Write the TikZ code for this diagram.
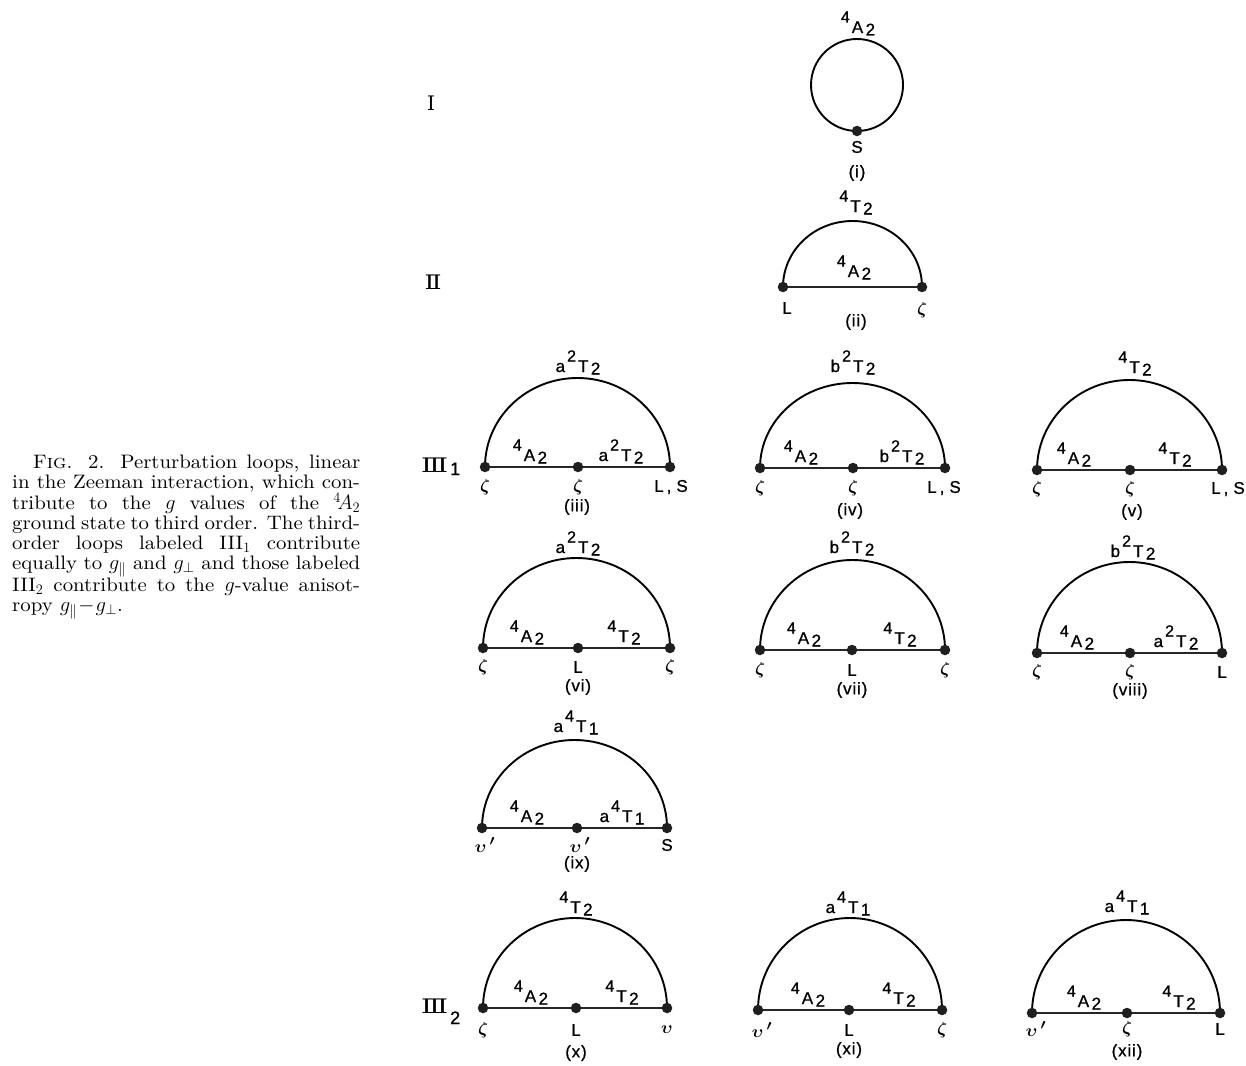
\documentclass[tikz,border=0pt]{standalone}
\usepackage{fontspec}
\usetikzlibrary{backgrounds}
\newfontfamily\labfont[LetterSpace=5,FakeBold=0.8]{Liberation Sans}
\newfontfamily\romfont{DejaVu Serif}
\newfontfamily\capf{lmroman10-regular.otf}[FakeStretch=1.07,ItalicFont=lmroman10-italic.otf,SmallCapsFont=lmromancaps10-regular.otf]
\newcommand\trm[4]{#1\kern2pt\raisebox{10.5pt}{\fontsize{16}{18}\selectfont #2}\kern2pt#3\kern2.5pt\raisebox{-2.5pt}{#4}}
\newcommand\zt{$\zeta$}
\newcommand\up{$\upsilon\,{}'$}
\newcommand\capfont{\capf\fontsize{19.5}{20}\selectfont}
\begin{document}
\begin{tikzpicture}[x=1pt,y=1pt,
  dot/.style={circle,fill=black!88,inner sep=0pt,minimum size=10.5pt},
  arcline/.style={line width=1.9pt,black},
  baseln/.style={line width=1.6pt,black!85},
  lbl/.style={font=\labfont\fontsize{17}{20}\selectfont,inner sep=0pt},
  gk/.style={font=\fontsize{19}{22}\selectfont\boldmath,inner sep=0pt},
  rowl/.style={font=\romfont\fontsize{20}{23}\selectfont,inner sep=0pt}]
\useasboundingbox (0,0) rectangle (1246,-1065);

% ---------- caption ----------
\node[anchor=base west,inner sep=0pt] (cap) at (12,-468) {\parbox[t]{348pt}{\capfont
\hbox to 348pt{\hskip21pt F\textsc{ig}. 2. Perturbation loops, linear}
\hbox to 348pt{in the Zeeman interaction, which con-}
\hbox to 348pt{tribute to the $g$ values of the $^4\!A_2$}
\hbox to 348pt{ground state to third order. The third-}
\hbox to 348pt{order loops labeled III$_1$ contribute}
\hbox to 348pt{equally to $g_{\parallel}$ and $g_{\perp}$ and those labeled}
\hbox to 348pt{III$_2$ contribute to the $g$-value anisot-}
\hbox{ropy $g_{\parallel}\!-\!g_{\perp}$.}}};

% ---------- row labels ----------
\node[rowl] (rI) at (431,-103) {Ⅰ};
\node[rowl] (rII) at (433,-282) {\scalebox{1.25}[1]{Ⅱ}};
\node[rowl,anchor=base west] (rIIIa) at (421,-472) {\scalebox{1.4}[1]{Ⅲ}\kern2pt\raisebox{-3pt}{\labfont\fontsize{18}{20}\selectfont 1}};
\node[rowl,anchor=base west] (rIIIb) at (421,-1013) {\scalebox{1.4}[1]{Ⅲ}\kern2pt\raisebox{-11pt}{\labfont\fontsize{18}{20}\selectfont 2}};

% ---------- (i) ----------
\node[dot] (s1) at (857,-131) {};
\node[lbl,anchor=base] (t1) at (857,-33) {\trm{}{4}{A}{2}};
\node[lbl] (b1) at (857,-147) {S};
\node[lbl] (n1) at (857,-173) {(i)};

% ---------- (ii) ----------
\node[dot] (a2) at (783,-287) {};
\node[dot] (c2) at (922,-287) {};
\node[lbl,anchor=base] (t2) at (855,-212) {\trm{}{4}{T}{2}};
\node[lbl,anchor=base] (i2) at (853,-277) {\trm{}{4}{A}{2}};
\node[lbl] (la2) at (787,-308) {L};
\node[gk] (lc2) at (922,-310) {\zt};
\node[lbl] (n2) at (856,-322) {(ii)};

% ---------- (iii) ----------
\node[dot] (a3) at (485,-467) {};
\node[dot] (b3) at (578,-467) {};
\node[dot] (c3) at (670,-467) {};
\node[lbl,anchor=base] (t3) at (578,-372) {\trm{a}{2}{T}{2}};
\node[lbl,anchor=base] (il3) at (529,-461) {\trm{}{4}{A}{2}};
\node[lbl,anchor=base] (ir3) at (621,-461) {\trm{a}{2}{T}{2}};
\node[gk] (la3) at (485,-487) {\zt};
\node[gk] (lb3) at (578,-487) {\zt};
\node[lbl] (lc3) at (671,-487) {L\kern3pt,\kern5pt S};
\node[lbl] (n3) at (577,-507) {(iii)};

% ---------- (iv) ----------
\node[dot] (a4) at (760,-468) {};
\node[dot] (b4) at (853,-468) {};
\node[dot] (c4) at (945,-468) {};
\node[lbl,anchor=base] (t4) at (853,-372) {\trm{b}{2}{T}{2}};
\node[lbl,anchor=base] (il4) at (800,-462) {\trm{}{4}{A}{2}};
\node[lbl,anchor=base] (ir4) at (902,-462) {\trm{b}{2}{T}{2}};
\node[gk] (la4) at (760,-488) {\zt};
\node[gk] (lb4) at (853,-488) {\zt};
\node[lbl] (lc4) at (944,-488) {L\kern3pt,\kern5pt S};
\node[lbl] (n4) at (850,-511) {(iv)};

% ---------- (v) ----------
\node[dot] (a5) at (1037,-470) {};
\node[dot] (b5) at (1130,-470) {};
\node[dot] (c5) at (1222,-470) {};
\node[lbl,anchor=base] (t5) at (1134,-373) {\trm{}{4}{T}{2}};
\node[lbl,anchor=base] (il5) at (1073,-464) {\trm{}{4}{A}{2}};
\node[lbl,anchor=base] (ir5) at (1174,-464) {\trm{}{4}{T}{2}};
\node[gk] (la5) at (1037,-489) {\zt};
\node[gk] (lb5) at (1130,-489) {\zt};
\node[lbl] (lc5) at (1228,-489) {L\kern3pt,\kern5pt S};
\node[lbl] (n5) at (1132,-512) {(v)};

% ---------- (vi) ----------
\node[dot] (a6) at (483,-648) {};
\node[dot] (b6) at (578,-648) {};
\node[dot] (c6) at (670,-648) {};
\node[lbl,anchor=base] (t6) at (578,-553) {\trm{a}{2}{T}{2}};
\node[lbl,anchor=base] (il6) at (526,-642) {\trm{}{4}{A}{2}};
\node[lbl,anchor=base] (ir6) at (623,-642) {\trm{}{4}{T}{2}};
\node[gk] (la6) at (483,-667) {\zt};
\node[lbl] (lb6) at (578,-667) {L};
\node[gk] (lc6) at (670,-667) {\zt};
\node[lbl] (n6) at (578,-687) {(vi)};

% ---------- (vii) ----------
\node[dot] (a7) at (760,-650) {};
\node[dot] (b7) at (852,-650) {};
\node[dot] (c7) at (945,-650) {};
\node[lbl,anchor=base] (t7) at (852,-553) {\trm{b}{2}{T}{2}};
\node[lbl,anchor=base] (il7) at (803,-644) {\trm{}{4}{A}{2}};
\node[lbl,anchor=base] (ir7) at (899,-644) {\trm{}{4}{T}{2}};
\node[gk] (la7) at (760,-670) {\zt};
\node[lbl] (lb7) at (852,-670) {L};
\node[gk] (lc7) at (945,-670) {\zt};
\node[lbl] (n7) at (852,-690) {(vii)};

% ---------- (viii) ----------
\node[dot] (a8) at (1037,-653) {};
\node[dot] (b8) at (1130,-653) {};
\node[dot] (c8) at (1222,-653) {};
\node[lbl,anchor=base] (t8) at (1133,-557) {\trm{b}{2}{T}{2}};
\node[lbl,anchor=base] (il8) at (1076,-647) {\trm{}{4}{A}{2}};
\node[lbl,anchor=base] (ir8) at (1176,-647) {\trm{a}{2}{T}{2}};
\node[gk] (la8) at (1037,-672) {\zt};
\node[gk] (lb8) at (1130,-672) {\zt};
\node[lbl] (lc8) at (1222,-672) {L};
\node[lbl] (n8) at (1130,-691) {(viii)};

% ---------- (ix) ----------
\node[dot] (a9) at (482,-828) {};
\node[dot] (b9) at (577,-828) {};
\node[dot] (c9) at (667,-828) {};
\node[lbl,anchor=base] (t9) at (576,-732) {\trm{a}{4}{T}{1}};
\node[lbl,anchor=base] (il9) at (526,-822) {\trm{}{4}{A}{2}};
\node[lbl,anchor=base] (ir9) at (622,-822) {\trm{a}{4}{T}{1}};
\node[gk] (la9) at (485,-845) {\up};
\node[gk] (lb9) at (580,-845) {\up};
\node[lbl] (lc9) at (667,-845) {S};
\node[lbl] (n9) at (577,-864) {(ix)};

% ---------- (x) ----------
\node[dot] (a10) at (483,-1008) {};
\node[dot] (b10) at (576,-1008) {};
\node[dot] (c10) at (667,-1008) {};
\node[lbl,anchor=base] (t10) at (575,-913) {\trm{}{4}{T}{2}};
\node[lbl,anchor=base] (il10) at (530,-1002) {\trm{}{4}{A}{2}};
\node[lbl,anchor=base] (ir10) at (621,-1002) {\trm{}{4}{T}{2}};
\node[gk] (la10) at (483,-1030) {\zt};
\node[lbl] (lb10) at (576,-1030) {L};
\node[gk] (lc10) at (667,-1030) {$\upsilon$};
\node[lbl] (n10) at (576,-1053) {(x)};

% ---------- (xi) ----------
\node[dot] (a11) at (758,-1010) {};
\node[dot] (b11) at (849,-1010) {};
\node[dot] (c11) at (942,-1010) {};
\node[lbl,anchor=base] (t11) at (848,-913) {\trm{a}{4}{T}{1}};
\node[lbl,anchor=base] (il11) at (807,-1004) {\trm{}{4}{A}{2}};
\node[lbl,anchor=base] (ir11) at (898,-1004) {\trm{}{4}{T}{2}};
\node[gk] (la11) at (762,-1030) {\up};
\node[lbl] (lb11) at (849,-1030) {L};
\node[gk] (lc11) at (942,-1030) {\zt};
\node[lbl] (n11) at (849,-1050) {(xi)};

% ---------- (xii) ----------
\node[dot] (a12) at (1032,-1013) {};
\node[dot] (b12) at (1127,-1013) {};
\node[dot] (c12) at (1220,-1013) {};
\node[lbl,anchor=base] (t12) at (1127,-912) {\trm{a}{4}{T}{1}};
\node[lbl,anchor=base] (il12) at (1083,-1007) {\trm{}{4}{A}{2}};
\node[lbl,anchor=base] (ir12) at (1178,-1007) {\trm{}{4}{T}{2}};
\node[gk] (la12) at (1036,-1029) {\up};
\node[gk] (lb12) at (1127,-1029) {\zt};
\node[lbl] (lc12) at (1220,-1029) {L};
\node[lbl] (n12) at (1127,-1052) {(xii)};

% ---------- lines (behind dots) ----------
\begin{pgfonlayer}{background}
\fill[white] (0,0) rectangle (1246,-1065);
\draw[arcline] (s1.center) arc[start angle=-90,end angle=270,radius=46];
\draw[baseln] (a2) -- (c2);
\draw[arcline] (a2.center) arc[start angle=180,end angle=0,x radius=69.5,y radius=66];
\foreach \k/\rx/\ry in {3/92.5/89,4/92.5/85,5/92.5/90,6/93.5/90,7/92.5/90,8/92.5/91,9/92.5/88,10/92/90,11/92/92,12/94/93}{
  \draw[baseln] (a\k) -- (b\k) -- (c\k);
  \draw[arcline] (a\k.center) arc[start angle=180,end angle=0,x radius=\rx,y radius=\ry];
}
\end{pgfonlayer}
\end{tikzpicture}
\end{document}
